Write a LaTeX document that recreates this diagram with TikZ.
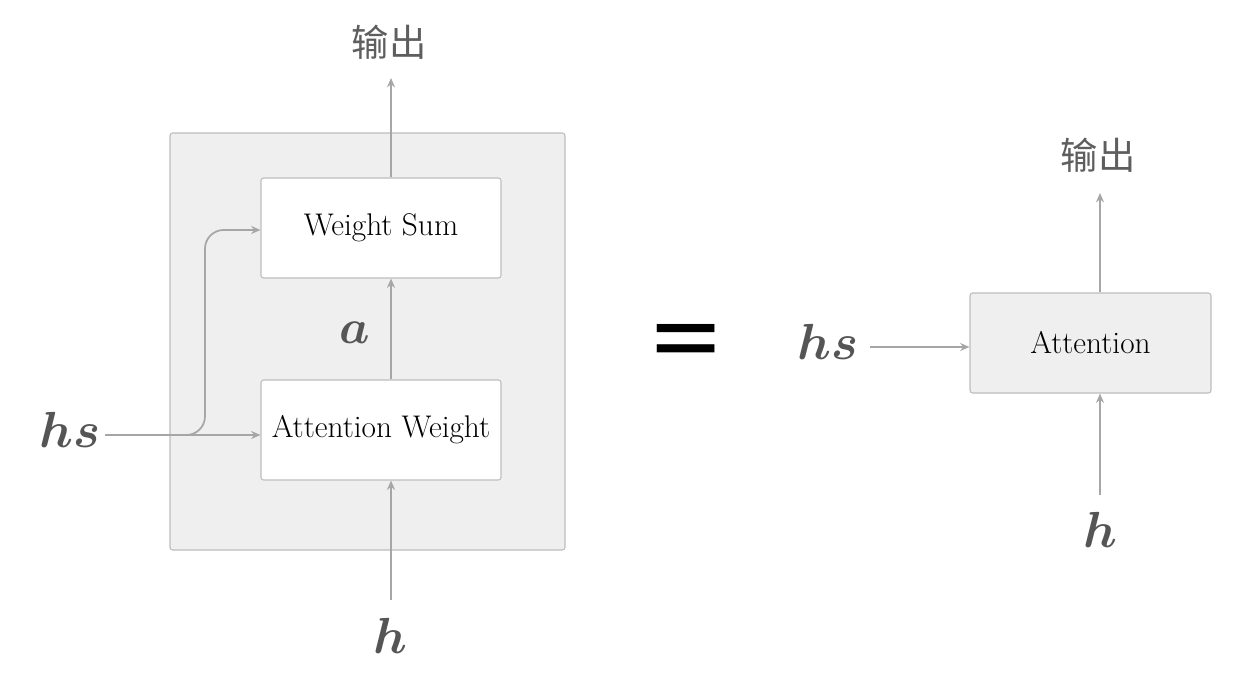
\documentclass[tikz,border=0pt]{standalone}
\usepackage{amsmath,bm}
\usepackage{fontspec}
\newfontfamily\cjk{Noto Sans CJK SC}
\newfontfamily\eqfont{Liberation Sans}
\usetikzlibrary{arrows.meta}
\definecolor{linegray}{HTML}{A6A6A6}
\definecolor{boxgray}{HTML}{EFEFEF}
\definecolor{bordergray}{HTML}{BDBDBD}
\definecolor{txtgray}{HTML}{555555}
\definecolor{cjkgray}{HTML}{5E5E5E}
\tikzset{
  conn/.style={draw=linegray, line width=1.3pt, -{Stealth[length=7pt,width=6pt]}},
  innerbox/.style={draw=bordergray, fill=white, line width=0.8pt, rounded corners=2pt, minimum width=180pt, minimum height=75pt, inner sep=0pt, font=\fontsize{23.5}{28}\selectfont},
  graybox/.style={draw=bordergray, fill=boxgray, line width=0.8pt, rounded corners=2pt, inner sep=0pt},
  varlabel/.style={text=txtgray, inner sep=0pt, font=\Huge, scale=1.53},
  outlabel/.style={text=cjkgray, inner sep=0pt, font=\cjk\fontsize{28}{32}\selectfont},
}
\begin{document}
\begin{tikzpicture}[x=0.75pt,y=-0.75pt]
\useasboundingbox (0,0) rectangle (1246,681);
% left big box
\node[graybox, minimum width=296.25pt, minimum height=312.75pt] (outer) at (367.5,341.5) {};
\node[innerbox] (ws) at (381,228) {Weight Sum};
\node[innerbox] (aw) at (381,430) {Attention Weight};
\node[outlabel] (out1) at (389,42) {输出};
\node[varlabel] (h1) at (390,636) {$\bm{h}$};
\node[varlabel] (hs1) at (70,430) {$\bm{hs}$};
\node[varlabel, scale=0.95] (a1) at (355,333) {$\bm{a}$};
\coordinate (hsend1) at (105,435);
\coordinate (h1start) at (391,600);
\coordinate (out1end) at (391,78);
\draw[conn] (ws.north -| out1end) -- (out1end);
\draw[conn] (aw.north -| out1end) -- (ws.south -| out1end);
\draw[conn] (h1start) -- (aw.south -| h1start);
\draw[conn] (hsend1) -- (aw.west |- hsend1);
\draw[conn, rounded corners=14pt] (hsend1) -- (205,435) -- (205,230) -- (aw.west |- 0,230);
% equals sign
\node[inner sep=0pt, font=\eqfont\bfseries\fontsize{88}{96}\selectfont, xscale=0.98, yscale=0.64] (eq) at (686,343.5) {=};
% right
\node[graybox, minimum width=180.75pt, minimum height=75pt, font=\fontsize{23.5}{28}\selectfont] (att) at (1090.5,343) {Attention};
\node[outlabel] (out2) at (1098,155) {输出};
\node[varlabel] (hs2) at (828,342) {$\bm{hs}$};
\node[varlabel] (h2) at (1100,530) {$\bm{h}$};
\coordinate (hs2end) at (870,347);
\coordinate (h2start) at (1100,495);
\coordinate (out2end) at (1100,193);
\draw[conn] (hs2end) -- (att.west |- hs2end);
\draw[conn] (h2start) -- (att.south -| h2start);
\draw[conn] (att.north -| out2end) -- (out2end);
\end{tikzpicture}
\end{document}
